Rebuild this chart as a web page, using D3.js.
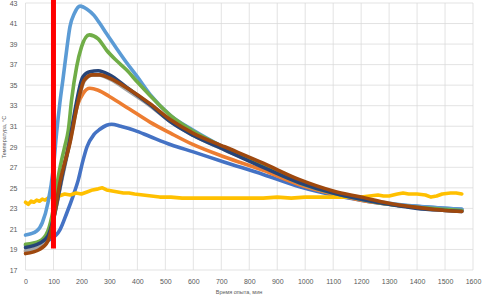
<!DOCTYPE html>
<html>
<head>
<meta charset="utf-8">
<script src="https://cdn.jsdelivr.net/npm/d3@7"></script>
<style>
  body { margin: 0; background: #fff; }
  svg { display: block; font-family: "Liberation Sans", Arial, sans-serif; }
</style>
</head>
<body>
<svg id="chart" width="484" height="298"></svg>
<script>
// x ticks and y ticks
const xTicks = d3.range(0, 1601, 100);
const yTicks = d3.range(17, 44, 2);

// [time, temperature] pairs
const seriesBlue = [[0,19.4],[50,19.7],[90,20.0],[123,20.9],[147,22.5],[170,24.2],[189,25.8],[205,27.6],[220,29.0],[245,30.2],[266,30.7],[290,31.1],[308,31.2],[340,31.0],[390,30.6],[445,30.0],[520,29.2],[600,28.5],[712,27.5],[850,26.3],[980,25.1],[1100,24.3],[1200,23.8],[1300,23.4],[1400,23.2],[1500,23.0],[1560,22.9]];
const seriesOrange = [[0,18.8],[50,19.2],[80,20.0],[100,22.0],[130,26.0],[160,30.0],[185,33.0],[206,34.2],[230,34.7],[260,34.5],[300,33.9],[370,32.7],[445,31.4],[520,30.3],[600,29.2],[712,28.0],[850,26.7],[980,25.3],[1100,24.4],[1200,23.8],[1300,23.4],[1400,23.1],[1500,22.9],[1560,22.8]];
const seriesGray = [[0,18.9],[50,19.3],[80,20.1],[100,21.9],[130,25.8],[160,29.6],[185,33.0],[210,35.4],[240,36.0],[262,36.0],[300,35.6],[370,34.4],[445,33.0],[520,31.4],[600,30.1],[712,28.7],[850,27.1],[980,25.5],[1100,24.5],[1200,23.9],[1300,23.4],[1400,23.1],[1500,22.9],[1560,22.8]];
const seriesYellow = [[0,23.6],[10,23.4],[20,23.7],[30,23.6],[40,23.8],[50,23.7],[60,23.9],[70,23.8],[80,24.0],[90,24.1],[100,24.3],[120,24.2],[140,24.4],[160,24.3],[180,24.5],[200,24.4],[220,24.6],[240,24.8],[260,24.9],[275,25.0],[290,24.8],[310,24.7],[330,24.6],[350,24.5],[370,24.5],[390,24.4],[420,24.3],[450,24.2],[480,24.1],[520,24.1],[560,24.0],[600,24.0],[650,24.0],[700,24.0],[750,24.0],[800,24.0],[850,24.0],[900,24.1],[950,24.0],[1000,24.1],[1050,24.1],[1100,24.1],[1150,24.1],[1200,24.1],[1230,24.2],[1260,24.3],[1280,24.2],[1300,24.2],[1330,24.4],[1350,24.5],[1370,24.4],[1400,24.4],[1430,24.3],[1450,24.1],[1470,24.2],[1490,24.4],[1520,24.5],[1540,24.5],[1560,24.4]];
const seriesLightBlue = [[0,20.4],[40,20.8],[60,21.6],[80,23.5],[100,27.0],[111,30.3],[123,33.3],[135,35.8],[148,38.6],[159,40.7],[175,42.0],[195,42.7],[220,42.4],[245,41.8],[266,41.0],[290,40.0],[325,38.6],[361,37.2],[400,35.8],[445,34.1],[520,32.0],[600,30.6],[712,28.9],[850,27.1],[980,25.5],[1100,24.5],[1200,23.9],[1300,23.5],[1400,23.2],[1500,23.0],[1560,22.9]];
const seriesGreen = [[0,19.5],[50,19.8],[80,20.8],[100,23.0],[120,26.5],[140,29.0],[153,30.6],[165,33.6],[183,36.8],[200,38.7],[228,39.9],[260,39.5],[290,38.4],[325,37.4],[361,36.5],[400,35.3],[445,34.0],[520,32.0],[600,30.5],[712,28.9],[850,27.1],[980,25.5],[1100,24.5],[1200,23.9],[1300,23.4],[1400,23.1],[1500,22.9],[1560,22.8]];
const seriesNavy = [[0,19.2],[50,19.6],[80,20.3],[100,22.0],[130,26.0],[159,29.7],[180,33.0],[205,35.8],[230,36.3],[260,36.4],[300,36.0],[361,34.8],[445,33.1],[520,31.4],[600,30.1],[712,28.7],[850,27.0],[980,25.5],[1100,24.5],[1200,23.9],[1300,23.4],[1400,23.0],[1500,22.8],[1560,22.7]];
const seriesBrown = [[0,18.6],[50,19.0],[80,19.8],[100,21.9],[123,25.5],[160,29.5],[185,33.0],[210,35.5],[240,36.0],[266,36.0],[300,35.7],[370,34.6],[445,33.2],[520,31.6],[600,30.3],[712,29.0],[850,27.4],[980,25.8],[1100,24.7],[1200,24.1],[1300,23.5],[1400,23.1],[1500,22.8],[1560,22.7]];
const markerLine = [[100,19.1],[100,43.4]];

const seriesList = [
  {data: seriesBlue, color: '#4472C4'},
  {data: seriesOrange, color: '#ED7D31'},
  {data: seriesGray, color: '#A5A5A5'},
  {data: seriesYellow, color: '#FFC000', linear: true},
  {data: seriesLightBlue, color: '#5B9BD5'},
  {data: seriesGreen, color: '#70AD47'},
  {data: seriesNavy, color: '#264478'},
  {data: seriesBrown, color: '#9E480E'}
];

const svg = d3.select('svg#chart');
const plotLeft = 25.5, plotRight = 473, plotTop = 3, plotBottom = 270;

const x = d3.scaleLinear().domain([0, 1600]).range([plotLeft, plotRight]);
const y = d3.scaleLinear().domain([17, 43]).range([plotBottom, plotTop]);

// Gridlines
svg.append('g')
  .selectAll('line.hgrid').data(yTicks).enter()
  .append('line')
  .attr('class', 'hgrid')
  .attr('x1', plotLeft).attr('x2', plotRight)
  .attr('y1', d => y(d)).attr('y2', d => y(d))
  .attr('stroke', '#D9D9D9')
  .attr('stroke-width', 0.75);

svg.append('g')
  .selectAll('line.vgrid').data(xTicks).enter()
  .append('line')
  .attr('class', 'vgrid')
  .attr('x1', d => x(d)).attr('x2', d => x(d))
  .attr('y1', plotTop).attr('y2', plotBottom)
  .attr('stroke', '#D9D9D9')
  .attr('stroke-width', 0.75);

// Axes (labels only)
const xAxis = svg.append('g')
  .attr('transform', `translate(0,${plotBottom})`)
  .call(d3.axisBottom(x).tickValues(xTicks).tickFormat(d3.format('d')).tickSize(0).tickPadding(9));
const yAxis = svg.append('g')
  .attr('transform', `translate(${plotLeft},0)`)
  .call(d3.axisLeft(y).tickValues(yTicks).tickFormat(d3.format('d')).tickSize(0).tickPadding(8));

[xAxis, yAxis].forEach(g => {
  g.select('.domain').remove();
  g.selectAll('text')
    .attr('fill', '#595959')
    .style('font-size', '7px')
    .style('font-family', '"Liberation Sans", Arial, sans-serif');
});

// Series
const line = d3.line()
  .x(d => x(d[0]))
  .y(d => y(d[1]));

svg.append('g')
  .selectAll('path.series').data(seriesList).enter()
  .append('path')
  .attr('class', 'series')
  .attr('fill', 'none')
  .attr('stroke', d => d.color)
  .attr('stroke-width', 3.6)
  .attr('stroke-linejoin', 'round')
  .attr('stroke-linecap', 'round')
  .attr('d', d => line.curve(d.linear ? d3.curveLinear : d3.curveMonotoneX)(d.data));

// Red marker at 100 min
svg.append('path')
  .datum(markerLine)
  .attr('fill', 'none')
  .attr('stroke', '#FF0000')
  .attr('stroke-width', 5)
  .attr('d', line.curve(d3.curveLinear));

// Axis titles
svg.append('text')
  .attr('x', 239).attr('y', 294)
  .attr('text-anchor', 'middle')
  .attr('fill', '#595959')
  .style('font-size', '5.5px')
  .text('Время опыта, мин');

svg.append('text')
  .attr('transform', 'translate(6,137) rotate(-90)')
  .attr('text-anchor', 'middle')
  .attr('fill', '#595959')
  .style('font-size', '5.5px')
  .text('Температура, °С');
</script>
</body>
</html>
